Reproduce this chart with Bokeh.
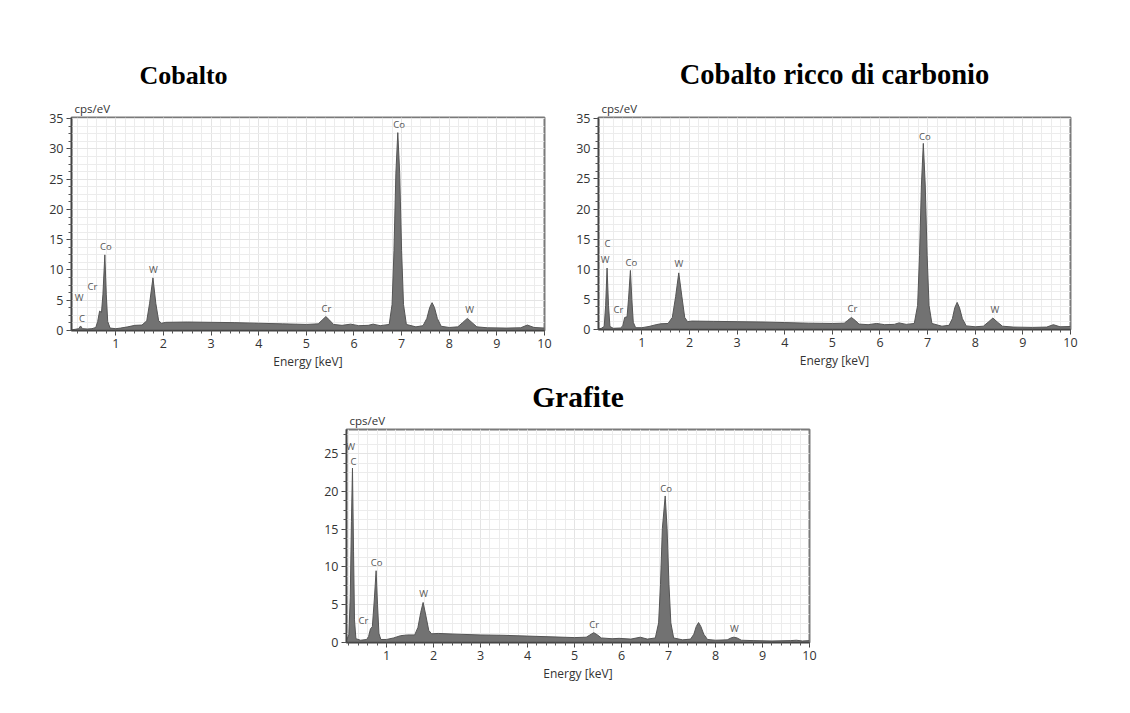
from bokeh.plotting import figure
from bokeh.models import Title, SingleIntervalTicker, ColumnDataSource, Range1d, Spacer
from bokeh.layouts import row, column
from bokeh.embed import file_html
from bokeh.resources import INLINE
from bokeh.core.properties import value

# ---------------- data ----------------
titles = ["Cobalto", "Cobalto ricco di carbonio", "Grafite"]

cobalto_energy = [0.07, 0.15, 0.22, 0.26, 0.30, 0.40, 0.50, 0.58, 0.62, 0.66, 0.70, 0.73, 0.77, 0.80, 0.83,
                  0.88, 1.00, 1.10, 1.25, 1.40, 1.55, 1.65, 1.71, 1.78, 1.84, 1.90, 1.96, 2.05, 2.50, 3.00,
                  3.50, 4.00, 4.50, 5.00, 5.25, 5.33, 5.41, 5.49, 5.57, 5.75, 5.93, 6.10, 6.30, 6.40, 6.55,
                  6.74, 6.80, 6.84, 6.88, 6.92, 6.96, 7.00, 7.04, 7.10, 7.30, 7.45, 7.53, 7.59, 7.64, 7.69,
                  7.75, 7.83, 8.00, 8.18, 8.28, 8.38, 8.48, 8.58, 8.80, 9.20, 9.50, 9.64, 9.78, 10.0]
cobalto_counts = [0.1, 0.2, 0.3, 0.75, 0.3, 0.25, 0.3, 0.5, 1.5, 3.2, 3.0, 6.0, 12.5, 6.0, 1.5,
                  0.4, 0.3, 0.4, 0.6, 0.85, 0.9, 1.6, 4.5, 8.7, 4.5, 1.6, 1.2, 1.35, 1.4, 1.35,
                  1.3, 1.2, 1.1, 1.0, 1.1, 1.7, 2.3, 1.7, 1.0, 0.85, 1.05, 0.8, 0.85, 1.05, 0.8,
                  1.0, 4.3, 13.2, 26.0, 32.7, 26.0, 13.2, 4.3, 1.0, 0.6, 0.8, 2.0, 3.8, 4.6, 3.8,
                  2.0, 0.7, 0.5, 0.6, 1.3, 2.0, 1.3, 0.6, 0.45, 0.4, 0.45, 0.9, 0.5, 0.4]
cobalto_label_text = ["W", "C", "Cr", "Co", "W", "Cr", "Co", "W"]
cobalto_label_x = [0.23, 0.29, 0.51, 0.79, 1.79, 5.42, 6.95, 8.43]
cobalto_label_y = [5.5, 2.0, 7.3, 13.9, 10.0, 3.6, 34.0, 3.4]

ricco_energy = [0.09, 0.15, 0.21, 0.24, 0.27, 0.30, 0.33, 0.40, 0.55, 0.60, 0.64, 0.69, 0.72, 0.76, 0.79,
                0.82, 0.87, 1.00, 1.15, 1.30, 1.40, 1.55, 1.64, 1.71, 1.775, 1.84, 1.90, 1.96, 2.05, 2.50,
                3.00, 3.50, 4.00, 4.50, 5.00, 5.25, 5.32, 5.40, 5.48, 5.56, 5.75, 5.93, 6.10, 6.30, 6.40,
                6.55, 6.72, 6.79, 6.83, 6.87, 6.91, 6.95, 6.99, 7.03, 7.09, 7.30, 7.45, 7.52, 7.57, 7.62,
                7.67, 7.73, 7.81, 8.00, 8.17, 8.27, 8.37, 8.47, 8.57, 8.80, 9.20, 9.50, 9.64, 9.78, 10.0]
ricco_counts = [0.1, 0.2, 0.5, 4.0, 10.2, 4.0, 0.5, 0.2, 0.25, 0.6, 2.0, 2.1, 5.0, 9.8, 5.0,
                1.2, 0.3, 0.3, 0.5, 0.8, 0.95, 1.0, 2.0, 5.5, 9.4, 5.5, 2.0, 1.3, 1.4, 1.35,
                1.3, 1.25, 1.15, 1.05, 1.0, 1.05, 1.5, 2.0, 1.5, 0.9, 0.8, 1.0, 0.8, 0.85, 1.1,
                0.85, 1.0, 4.0, 12.3, 24.0, 30.9, 24.0, 12.3, 4.0, 1.0, 0.55, 0.7, 1.8, 3.6, 4.5,
                3.6, 1.8, 0.6, 0.45, 0.55, 1.2, 1.9, 1.2, 0.55, 0.4, 0.35, 0.4, 0.8, 0.45, 0.5]
ricco_label_text = ["C", "W", "Cr", "Co", "W", "Cr", "Co", "W"]
ricco_label_x = [0.28, 0.23, 0.51, 0.78, 1.78, 5.42, 6.94, 8.41]
ricco_label_y = [14.2, 11.6, 3.3, 11.1, 10.9, 3.5, 32.1, 3.4]

grafite_energy = [0.15, 0.20, 0.23, 0.255, 0.277, 0.30, 0.32, 0.35, 0.45, 0.58, 0.62, 0.66, 0.70, 0.74, 0.78,
                  0.81, 0.84, 0.88, 1.00, 1.15, 1.30, 1.45, 1.60, 1.67, 1.73, 1.78, 1.84, 1.90, 1.96, 2.10,
                  2.50, 3.00, 3.50, 4.00, 4.50, 5.00, 5.25, 5.33, 5.41, 5.49, 5.57, 5.80, 5.95, 6.20, 6.40,
                  6.55, 6.72, 6.79, 6.83, 6.87, 6.93, 6.97, 7.01, 7.05, 7.11, 7.30, 7.47, 7.54, 7.59, 7.64,
                  7.69, 7.75, 7.83, 8.00, 8.25, 8.33, 8.39, 8.46, 8.55, 8.80, 9.20, 9.60, 9.72, 9.85, 10.0]
grafite_counts = [0.3, 1.0, 6.0, 16.0, 23.1, 12.0, 3.0, 0.5, 0.3, 0.4, 0.8, 1.8, 2.1, 5.5, 9.5,
                  5.0, 1.2, 0.4, 0.4, 0.6, 0.9, 1.0, 1.0, 2.0, 4.0, 5.3, 3.5, 1.6, 1.15, 1.2,
                  1.1, 1.0, 0.95, 0.85, 0.75, 0.65, 0.7, 1.0, 1.3, 1.0, 0.6, 0.5, 0.55, 0.45, 0.7,
                  0.45, 0.6, 2.6, 7.7, 15.1, 19.4, 15.1, 7.7, 2.6, 0.6, 0.35, 0.45, 1.1, 2.1, 2.64,
                  2.1, 1.1, 0.4, 0.3, 0.35, 0.6, 0.7, 0.6, 0.3, 0.25, 0.2, 0.25, 0.3, 0.2, 0.25]
grafite_label_text = ["W", "C", "Cr", "Co", "W", "Cr", "Co", "W"]
grafite_label_x = [0.24, 0.30, 0.51, 0.79, 1.79, 5.42, 6.95, 8.40]
grafite_label_y = [26.0, 24.0, 2.9, 10.6, 6.5, 2.4, 20.4, 1.85]

x_label = "Energy [keV]"
y_unit = "cps/eV"

# ---------------- styling helpers ----------------
SANS = "Open Sans"


def make_panel(title, energy, counts, lab_x, lab_y, lab_t, x_start, y_end,
               fw, fh, bl, br, bt, bb, title_align, title_offset, title_size, title_standoff):
    p = figure(frame_width=fw, frame_height=fh,
               min_border_left=bl, min_border_right=br, min_border_top=bt, min_border_bottom=bb,
               x_range=Range1d(x_start, 10.0), y_range=Range1d(0, y_end),
               output_backend="svg", toolbar_location=None, title_location=None,
               background_fill_color="white", border_fill_color="white")
    p.outline_line_color = "#7a7a7a"
    p.outline_line_width = 2

    # titles: first added is closest to the frame
    p.add_layout(Title(text=y_unit, align="left", offset=3, text_font=SANS,
                       text_font_size="11.5px", text_font_style="normal", text_color="#333333",
                       standoff=3), "above")
    p.add_layout(Title(text=title, align=title_align, offset=title_offset,
                       text_font="Liberation Serif", text_font_size=title_size,
                       text_font_style="bold", text_color="#000000", standoff=title_standoff), "above")

    p.xaxis.ticker = SingleIntervalTicker(interval=1, num_minor_ticks=5)
    p.yaxis.ticker = SingleIntervalTicker(interval=5, num_minor_ticks=4)
    for ax in (p.xaxis, p.yaxis):
        ax.axis_line_color = "#444444"
        ax.axis_line_width = 1.5
        ax.major_tick_line_color = "#444444"
        ax.minor_tick_line_color = "#555555"
        ax.major_tick_in = 0
        ax.major_tick_out = 5
        ax.minor_tick_in = 0
        ax.minor_tick_out = 3
        ax.major_label_text_font = SANS
        ax.major_label_text_font_size = "12.5px"
        ax.major_label_text_color = "#333333"
        ax.major_label_standoff = 3
    p.xaxis.axis_label = x_label
    p.xaxis.axis_label_text_font = SANS
    p.xaxis.axis_label_text_font_size = "12px"
    p.xaxis.axis_label_text_font_style = "normal"
    p.xaxis.axis_label_text_color = "#333333"
    p.xaxis.axis_label_standoff = 2

    for g in (p.xgrid, p.ygrid):
        g.grid_line_color = "#e4e4e4"
        g.grid_line_width = 1
        g.minor_grid_line_color = "#ececec"
        g.minor_grid_line_width = 1

    src = ColumnDataSource(dict(e=energy, c=counts))
    p.varea(x="e", y1=0, y2="c", source=src, fill_color="#727272")
    p.line(x="e", y="c", source=src, line_color="#555555", line_width=1)

    lsrc = ColumnDataSource(dict(x=lab_x, y=lab_y, t=lab_t))
    p.text(x="x", y="y", text="t", source=lsrc, text_font=value(SANS), text_font_size="9.5px",
           text_color="#555555", text_align="center", text_baseline="middle")
    return p


p1 = make_panel(titles[0], cobalto_energy, cobalto_counts, cobalto_label_x, cobalto_label_y,
                cobalto_label_text, 0.07, 35.2, 473, 213, 71, 14, 112, 47, "left", 68, "26px", 16)
p2 = make_panel(titles[1], ricco_energy, ricco_counts, ricco_label_x, ricco_label_y,
                ricco_label_text, 0.09, 35.2, 472, 212, 40, 20, 117, 43, "center", 11, "28.5px", 15)
p3 = make_panel(titles[2], grafite_energy, grafite_counts, grafite_label_x, grafite_label_y,
                grafite_label_text, 0.15, 28.2, 463, 213, 40, 20, 57, 40, "center", 9, "29.5px", -6)

layout = column(row(p1, p2), row(Spacer(width=306, height=10), p3))

open("out.html", "w").write(file_html(layout, INLINE))
